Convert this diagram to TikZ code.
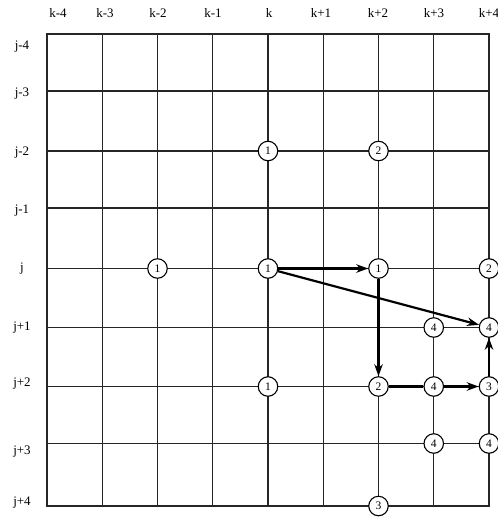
\documentclass[tikz,border=0pt]{standalone}
\usepackage{fontspec}
\setmainfont{Liberation Serif}
\usetikzlibrary{arrows.meta}
\begin{document}
\begin{tikzpicture}[x=1pt,y=-1pt,
  gridline/.style={line width=1.4pt,black!85,line cap=rect},
  pt/.style={circle,draw,line width=1.1pt,fill=white,minimum size=19.5pt,inner sep=0pt,font=\fontsize{11.5}{11.5}\selectfont},
  lab/.style={font=\fontsize{13}{13}\selectfont,inner sep=0pt},
  flow/.style={line width=2.2pt,-{Stealth[length=12pt,width=8.5pt]}},
  flowline/.style={line width=2.2pt}]
\useasboundingbox (0,0) rectangle (498,517);
% grid points
\foreach \i in {0,...,8}{
  \foreach \y [count=\r from 0] in {34,91,151,208,268.5,327.5,386.5,443.5,506}{
    \coordinate (p\i-\r) at ({47+55.25*\i},\y);
  }
}
\foreach \i in {0,...,8}{
  \draw[gridline] (p\i-0) -- (p\i-8);
  \draw[gridline] (p0-\i) -- (p8-\i);
}
% column labels
\foreach \x/\t [count=\c] in {58/k-4,105/k-3,158/k-2,213/k-1,269/k,321/k+1,378/k+2,434/k+3,489/k+4}{
  \node[lab] (c\c) at (\x,13) {\t};
}
% row labels
\foreach \y/\t [count=\c] in {47/j-4,94/j-3,153/j-2,211/j-1,269/j,328/j+1,384/j+2,452/j+3,503/j+4}{
  \node[lab] (r\c) at (22,\y) {\t};
}
% points
\node[pt] (n42) at (p4-2) {1};
\node[pt] (n62) at (p6-2) {2};
\node[pt] (n24) at (p2-4) {1};
\node[pt] (n44) at (p4-4) {1};
\node[pt] (n64) at (p6-4) {1};
\node[pt] (n84) at (p8-4) {2};
\node[pt] (n75) at (p7-5) {4};
\node[pt] (n85) at (p8-5) {4};
\node[pt] (n46) at (p4-6) {1};
\node[pt] (n66) at (p6-6) {2};
\node[pt] (n76) at (p7-6) {4};
\node[pt] (n86) at (p8-6) {3};
\node[pt] (n77) at (p7-7) {4};
\node[pt] (n87) at (p8-7) {4};
\node[pt] (n68) at (p6-8) {3};
% arrows
\draw[flow] (n44) -- (n64);
\draw[flow] (n44) -- (n85);
\draw[flow] (n64) -- (n66);
\draw[flowline] (n66) -- (n76);
\draw[flow] (n76) -- (n86);
\draw[flow] (n86) -- (n85);
\end{tikzpicture}
\end{document}
